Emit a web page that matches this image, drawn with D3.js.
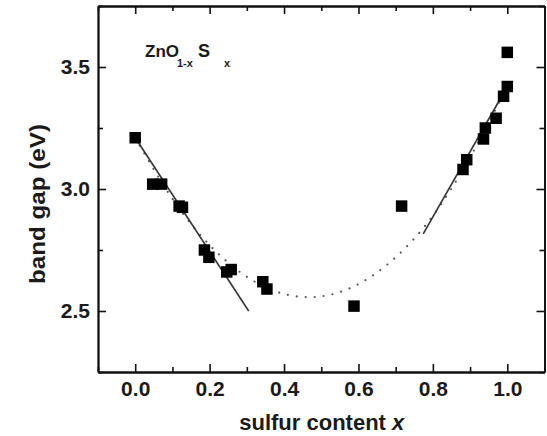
<!DOCTYPE html>
<html>
<head>
<meta charset="utf-8">
<script src="https://cdn.jsdelivr.net/npm/d3@7"></script>
<style>
  html, body { margin: 0; padding: 0; background: #fff; }
  svg { display: block; }
  text { font-family: "Liberation Sans", Arial, Helvetica, sans-serif; font-weight: bold; fill: #1a1a1a; }
</style>
</head>
<body>
<svg id="chart" width="547" height="436"></svg>
<script>
// Measured band gaps of ZnO(1-x)S(x) films
const sulfurX = [0.000, 0.047, 0.071, 0.118, 0.127, 0.186, 0.198, 0.246, 0.258,
                 0.343, 0.354, 0.588, 0.716, 0.881, 0.891, 0.936, 0.941, 0.970,
                 0.990, 1.000, 1.000];
const bandGap = [3.21, 3.02, 3.02, 2.93, 2.925, 2.75, 2.72, 2.66, 2.67,
                 2.62, 2.59, 2.52, 2.93, 3.08, 3.12, 3.205, 3.25, 3.29,
                 3.38, 3.42, 3.56];

// Linear fits at the O-rich and S-rich ends
const fitLowX = [0.0, 0.305];
const fitLowY = [3.21, 2.50];
const fitHighX = [0.774, 1.0];
const fitHighY = [2.816, 3.42];

// Bowing curve across the whole composition range
const bowX = [0.0, 0.1, 0.2, 0.3, 0.4, 0.5, 0.6, 0.7, 0.8, 0.9, 1.0];
const bowY = [3.21, 2.96, 2.77, 2.64, 2.57, 2.56, 2.61, 2.72, 2.89, 3.13, 3.42];

// Axis ticks
const xMajor = [0.0, 0.2, 0.4, 0.6, 0.8, 1.0];
const xMinor = [-0.1, 0.1, 0.3, 0.5, 0.7, 0.9, 1.1];
const yMajor = [2.5, 3.0, 3.5];
const yMinor = [2.25, 2.75, 3.25, 3.75];

const svg = d3.select("#chart");
const W = 547, H = 436;
const m = { left: 98, right: 2.5, top: 6, bottom: 64 };
const iw = W - m.left - m.right, ih = H - m.top - m.bottom;

const x = d3.scaleLinear().domain([-0.1, 1.1]).range([0, iw]);
const y = d3.scaleLinear().domain([2.25, 3.75]).range([ih, 0]);

const g = svg.append("g").attr("transform", `translate(${m.left},${m.top})`);

// Axes on all four sides, ticks pointing into the plot
function styleAxis(sel) {
  sel.selectAll("path.domain").attr("stroke", "#111").attr("stroke-width", 1.8);
  sel.selectAll(".tick line").attr("stroke", "#111").attr("stroke-width", 1.6);
  sel.selectAll(".tick text")
    .attr("font-size", 21)
    .attr("font-family", "'Liberation Sans', Arial, Helvetica, sans-serif")
    .attr("font-weight", "bold")
    .attr("fill", "#1a1a1a");
}
const fmt = d3.format(".1f");

g.append("g").attr("transform", `translate(0,${ih})`)
  .call(d3.axisBottom(x).tickValues(xMajor).tickSize(-8).tickSizeOuter(0).tickPadding(9).tickFormat(fmt))
  .call(styleAxis);
g.append("g").attr("transform", `translate(0,${ih})`)
  .call(d3.axisBottom(x).tickValues(xMinor).tickSize(-5).tickSizeOuter(0).tickFormat(""))
  .call(styleAxis);
g.append("g")
  .call(d3.axisTop(x).tickValues(xMajor).tickSize(-8).tickSizeOuter(0).tickFormat(""))
  .call(styleAxis);
g.append("g")
  .call(d3.axisTop(x).tickValues(xMinor).tickSize(-5).tickSizeOuter(0).tickFormat(""))
  .call(styleAxis);

g.append("g")
  .call(d3.axisLeft(y).tickValues(yMajor).tickSize(-8).tickSizeOuter(0).tickPadding(8).tickFormat(fmt))
  .call(styleAxis);
g.append("g")
  .call(d3.axisLeft(y).tickValues(yMinor).tickSize(-5).tickSizeOuter(0).tickFormat(""))
  .call(styleAxis);
g.append("g").attr("transform", `translate(${iw},0)`)
  .call(d3.axisRight(y).tickValues(yMajor).tickSize(-8).tickSizeOuter(0).tickFormat(""))
  .call(styleAxis);
g.append("g").attr("transform", `translate(${iw},0)`)
  .call(d3.axisRight(y).tickValues(yMinor).tickSize(-5).tickSizeOuter(0).tickFormat(""))
  .call(styleAxis);

// Dotted bowing curve
const bowLine = d3.line().x(d => x(d[0])).y(d => y(d[1])).curve(d3.curveNatural);
g.append("path")
  .datum(d3.zip(bowX, bowY))
  .attr("d", bowLine)
  .attr("fill", "none")
  .attr("stroke", "#555")
  .attr("stroke-width", 2.2)
  .attr("stroke-linecap", "round")
  .attr("stroke-dasharray", "0 9");

// Solid linear fits
const straight = d3.line().x(d => x(d[0])).y(d => y(d[1]));
[[fitLowX, fitLowY], [fitHighX, fitHighY]].forEach(([fx, fy]) => {
  g.append("path")
    .datum(d3.zip(fx, fy))
    .attr("d", straight)
    .attr("fill", "none")
    .attr("stroke", "#333")
    .attr("stroke-width", 1.6);
});

// Square markers
const square = d3.symbol().type(d3.symbolSquare).size(132);
g.append("g").selectAll("path")
  .data(d3.zip(sulfurX, bandGap))
  .join("path")
  .attr("transform", d => `translate(${x(d[0])},${y(d[1])})`)
  .attr("d", square)
  .attr("fill", "#000");

// Axis titles
const xt = svg.append("text")
  .attr("x", m.left + iw / 2 + 0.5)
  .attr("y", 430)
  .attr("text-anchor", "middle")
  .attr("font-size", 22);
xt.append("tspan").text("sulfur content ");
xt.append("tspan").attr("font-style", "italic").text("x");

svg.append("text")
  .attr("transform", "translate(45,204) rotate(-90)")
  .attr("text-anchor", "middle")
  .attr("font-size", 22)
  .attr("textLength", 160)
  .attr("lengthAdjust", "spacingAndGlyphs")
  .text("band gap (eV)");

// Compound label
const lab = svg.append("text").attr("y", 57);
lab.append("tspan").attr("x", 145).attr("font-size", 17).text("ZnO");
lab.append("tspan").attr("x", 177).attr("y", 66.5).attr("font-size", 11).text("1-x");
lab.append("tspan").attr("x", 198).attr("y", 57).attr("font-size", 18).text("S");
lab.append("tspan").attr("x", 224).attr("y", 66.5).attr("font-size", 11).text("x");
</script>
</body>
</html>
